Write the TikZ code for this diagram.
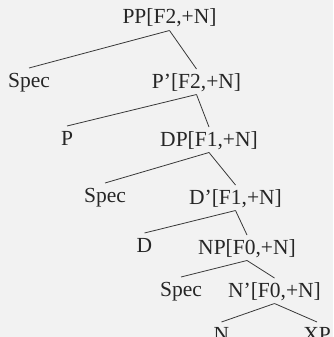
\documentclass[tikz,border=0pt]{standalone}
\usepackage{fontspec}
\setmainfont{Liberation Serif}
\begin{document}
\begin{tikzpicture}[x=1pt,y=-1pt,
  lab/.style={anchor=base, inner sep=0pt, font=\fontsize{21.5}{24}\selectfont, text=black!85},
  br/.style={draw=black!78, line width=0.8pt}]
\fill[black!5] (0,0) rectangle (333,337);
\useasboundingbox (0,0) rectangle (333,337);
\node[lab] (pp)  at (169.5,24) {PP[F2,+N]};
\node[lab] (s1)  at (29,87)    {Spec};
\node[lab] (pb)  at (196.5,88) {P'[F2,+N]};
\node[lab] (p)   at (67,145)   {P};
\node[lab] (dp)  at (209,146)  {DP[F1,+N]};
\node[lab] (s2)  at (105,202)  {Spec};
\node[lab] (db)  at (235.5,204){D'[F1,+N]};
\node[lab] (d)   at (144.5,252){D};
\node[lab] (np)  at (247,254)  {NP[F0,+N]};
\node[lab] (s3)  at (181,296)  {Spec};
\node[lab] (nb)  at (274.5,297){N'[F0,+N]};
\node[lab] (n)   at (221.5,341){N};
\node[lab] (xp)  at (317,341)  {XP};
\foreach \a/\b in {pp/s1,pp/pb,pb/p,pb/dp,dp/s2,dp/db,db/d,db/np,np/s3,np/nb,nb/n,nb/xp}
  \draw[br] ([yshift=-6.5pt]\a.base) -- ([yshift=19pt]\b.base);
\end{tikzpicture}
\end{document}
